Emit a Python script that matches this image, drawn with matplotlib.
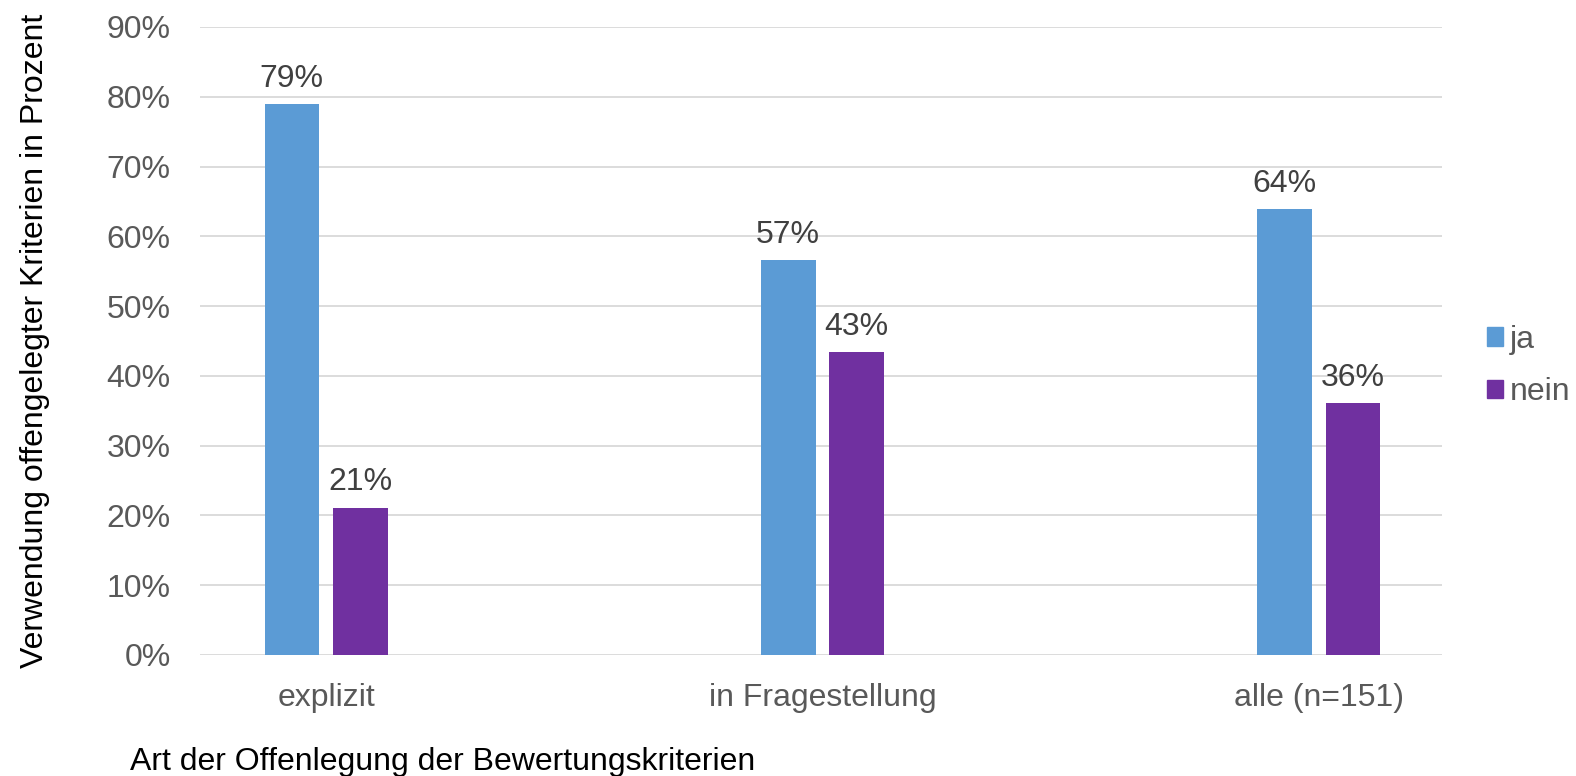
import matplotlib
matplotlib.use("Agg")
import matplotlib.pyplot as plt
import numpy as np
from matplotlib.patches import Patch

plt.rcParams['font.family'] = ['Liberation Sans', 'DejaVu Sans']

categories = ["explizit", "in Fragestellung", "alle (n=151)"]
ja = [78.9, 56.6, 63.9]
nein = [21.1, 43.4, 36.1]
labels_ja = ["79%", "57%", "64%"]
labels_nein = ["21%", "43%", "36%"]
yticks = [0, 10, 20, 30, 40, 50, 60, 70, 80, 90]

c_ja = "#5B9BD5"
c_nein = "#7030A0"
FS = 23

fig = plt.figure(figsize=(15.76, 7.76), dpi=100)
ax = fig.add_axes([200/1576, 1-655/776, 1242/1576, 628/776])

x = np.arange(len(categories))
w = 0.11
off = 0.069
b1 = ax.bar(x - off, ja, w, color=c_ja, zorder=3)
b2 = ax.bar(x + off, nein, w, color=c_nein, zorder=3)

for rect, lab in zip(b1, labels_ja):
    ax.text(rect.get_x() + rect.get_width()/2, rect.get_height() + 1.5, lab,
            ha='center', va='bottom', fontsize=FS, color='#404040')
for rect, lab in zip(b2, labels_nein):
    ax.text(rect.get_x() + rect.get_width()/2, rect.get_height() + 1.5, lab,
            ha='center', va='bottom', fontsize=FS, color='#404040')

ax.set_xlim(-0.254, 2.248)
ax.set_ylim(0, 90)
ax.set_yticks(yticks)
ax.set_yticklabels([f"{v}%" for v in yticks])
ax.set_xticks(x)
ax.set_xticklabels(categories)
ax.tick_params(axis='both', length=0, labelsize=FS, labelcolor='#595959')
ax.tick_params(axis='y', pad=21)
ax.tick_params(axis='x', pad=20)
ax.yaxis.grid(True, color='#D9D9D9', linewidth=1.3, zorder=0)
for s in ax.spines.values():
    s.set_visible(False)

ax.set_ylabel("Verwendung offengelegter Kriterien in Prozent", fontsize=FS, color='black')
ax.yaxis.set_label_coords(-150/1242, 0.5)

fig.text(130/1576, 1-762/776, "Art der Offenlegung der Bewertungskriterien",
         fontsize=FS, color='black', ha='left', va='center')

handles = [Patch(color=c_ja, label='ja'), Patch(color=c_nein, label='nein')]
leg = fig.legend(handles=handles, loc='center left', bbox_to_anchor=(1487/1576, 1-366/776),
                 frameon=False, fontsize=FS, handlelength=0.5, handleheight=0.5,
                 handletextpad=0.2, labelspacing=0.7, borderpad=0, borderaxespad=0,
                 labelcolor='#595959')

fig.savefig("out.png", dpi=100)
